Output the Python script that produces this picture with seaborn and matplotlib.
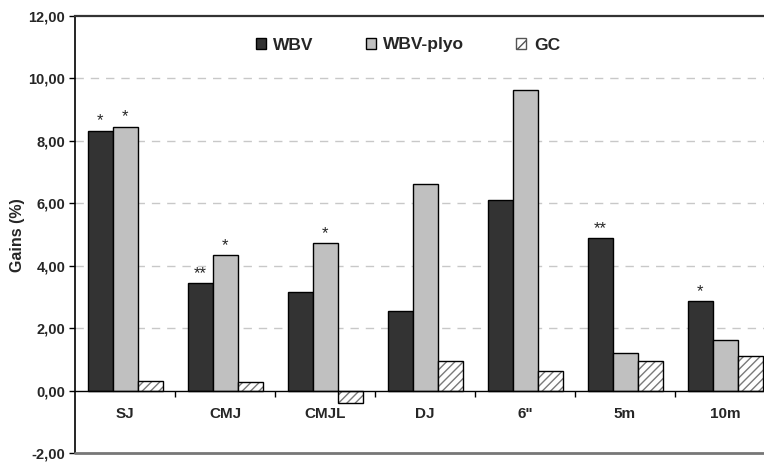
import matplotlib
matplotlib.use("Agg")
import matplotlib.pyplot as plt
import matplotlib.colors as mcolors
from matplotlib.patches import Patch
from matplotlib.ticker import FuncFormatter, FixedLocator
import seaborn as sns
import pandas as pd

categories = ['SJ', 'CMJ', 'CMJL', 'DJ', '6"', '5m', '10m']
groups = ['WBV', 'WBV-plyo', 'GC']
wbv = [8.33, 3.45, 3.17, 2.57, 6.11, 4.89, 2.86]
wbv_plyo = [8.46, 4.34, 4.73, 6.62, 9.62, 1.20, 1.63]
gc = [0.31, 0.29, -0.40, 0.97, 0.63, 0.97, 1.11]
sig_wbv = ['*', '**', '', '', '', '**', '*']
sig_plyo = ['*', '*', '*', '', '', '', '']
yticks = [-2, 0, 2, 4, 6, 8, 10, 12]

df = pd.DataFrame({
    'Test': categories * 3,
    'Group': [g for g in groups for _ in categories],
    'Gain': wbv + wbv_plyo + gc,
})

sns.set_style('white')
plt.rcParams['font.family'] = ['Liberation Sans', 'DejaVu Sans']
plt.rcParams['hatch.linewidth'] = 1.0

fig = plt.figure(figsize=(7.64, 4.62), dpi=100)
ax = fig.add_axes([75 / 764, 1 - 453.3 / 462, 700 / 764, 437.3 / 462])

palette = {'WBV': '#333333', 'WBV-plyo': '#c0c0c0', 'GC': '#ffffff'}
sns.barplot(data=df, x='Test', y='Gain', hue='Group', order=categories,
            hue_order=groups, palette=palette, saturation=1, width=0.75,
            edgecolor='black', linewidth=1.0, legend=False, ax=ax, errorbar=None)

# hatch GC bars
for p in ax.containers[2]:
    p.set_hatch('////')
    p.set_edgecolor('black')
    p._hatch_color = mcolors.to_rgba('#7a7a7a')

ax.set_ylim(-2, 12)
ax.set_xlim(-0.5, len(categories) - 0.5)
ax.yaxis.set_major_locator(FixedLocator(yticks))
ax.yaxis.set_major_formatter(FuncFormatter(lambda v, _: f"{v:.2f}".replace('.', ',')))

# gridlines
for y in yticks:
    if y not in (-2, 0, 12):
        ax.axhline(y, color='#c8c8c8', lw=1.0, ls=(0, (6, 5)), zorder=0)

# spines
ax.spines['left'].set_color('black')
ax.spines['left'].set_linewidth(1.2)
ax.spines['top'].set_color('#333333')
ax.spines['top'].set_linewidth(1.6)
ax.spines['right'].set_visible(False)
ax.spines['bottom'].set_position(('data', 0))
ax.spines['bottom'].set_color('black')
ax.spines['bottom'].set_linewidth(1.0)
ax.spines['bottom'].set_zorder(5)
ax.axhline(-2, color='#777777', lw=2.0, clip_on=False, zorder=5)

ax.set_xticks(range(len(categories)))
ax.set_xticklabels(categories, fontsize=11, fontweight='bold')
ax.set_xticks([i + 0.5 for i in range(len(categories) - 1)], minor=True)
ax.tick_params(axis='x', which='major', length=0, pad=12)
ax.tick_params(axis='x', which='minor', length=4, width=1, color='black', direction='out', bottom=True)
ax.tick_params(axis='y', length=4, width=1, color='black', direction='out', left=True, pad=3, labelsize=10.5)
for t in ax.get_yticklabels():
    t.set_fontweight('bold')

ax.set_xlabel('')
ax.set_ylabel('Gains (%)', fontsize=11.5, fontweight='bold')
ax.yaxis.set_label_coords(-0.071, 0.5)

# significance markers
for cont, sigs in ((ax.containers[0], sig_wbv), (ax.containers[1], sig_plyo)):
    for p, s in zip(cont, sigs):
        if s:
            ax.annotate(s, (p.get_x() + p.get_width() / 2, p.get_height()),
                        xytext=(0, 1.5), textcoords='offset points',
                        ha='center', va='bottom', fontsize=12)

handles = [
    Patch(facecolor='#333333', edgecolor='black', label='WBV'),
    Patch(facecolor='#c0c0c0', edgecolor='black', label='WBV-plyo'),
    Patch(facecolor='white', edgecolor='#555555', hatch='///', label='GC'),
]
leg = ax.legend(handles=handles, loc='center', bbox_to_anchor=(408 / 764, 1 - 45 / 462),
                bbox_transform=fig.transFigure, ncol=3, frameon=False,
                handlelength=0.55, handleheight=0.55, handletextpad=0.45,
                columnspacing=3.0, prop={'weight': 'bold', 'size': 12.5})

fig.savefig('out.png', dpi=100)
